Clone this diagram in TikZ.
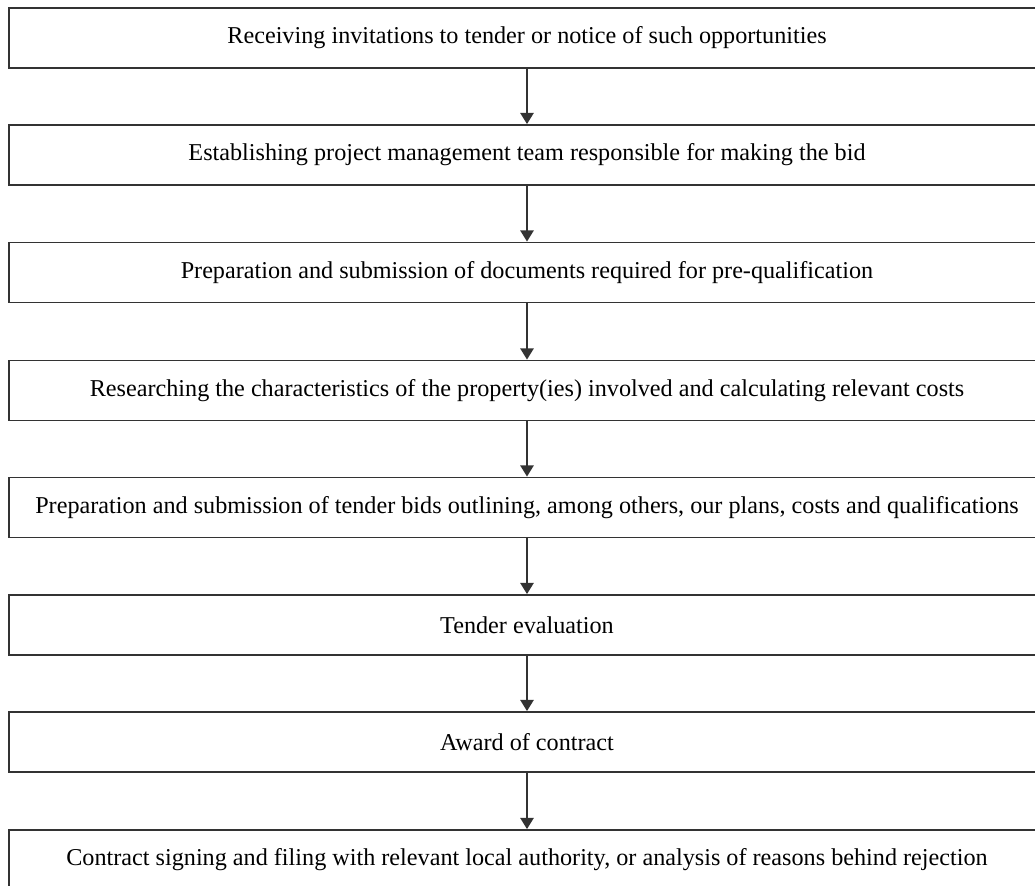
\documentclass[tikz,border=0pt]{standalone}
\usepackage{fontspec}
\setmainfont{Liberation Serif}
\usetikzlibrary{arrows.meta}

\begin{document}
\begin{tikzpicture}[x=0.025cm,y=-0.025cm,
                stage/.style={draw=black!80,line width=1.3pt,minimum width=25.9cm,minimum height=1.5cm,inner sep=0pt,font=\fontsize{17.2}{21}\selectfont},
                flow/.style={draw=black!80,line width=1.3pt,-{Triangle[width=9.5pt,length=8pt]}}]
                \clip (0,0) rectangle (1035,886);
                \node [stage] (s1) at (527,38) {Receiving invitations to tender or notice of such opportunities};
                \node [stage] (s2) at (527,155) {Establishing project management team responsible for making the bid};
                \node [stage] (s3) at (527,272.5) {Preparation and submission of documents required for pre-qualification};
                \node [stage] (s4) at (527,390.5) {Researching the characteristics of the property(ies) involved and calculating relevant costs};
                \node [stage] (s5) at (527,507.5) {Preparation and submission of tender bids outlining, among others, our plans, costs and qualifications};
                \node [stage] (s6) at (527,625) {Tender evaluation};
                \node [stage] (s7) at (527,742) {Award of contract};
                \node [stage] (s8) at (527,860) {Contract signing and filing with relevant local authority, or analysis of reasons behind rejection};
                \draw [flow] (s1) -- (s2);
                \draw [flow] (s2) -- (s3);
                \draw [flow] (s3) -- (s4);
                \draw [flow] (s4) -- (s5);
                \draw [flow] (s5) -- (s6);
                \draw [flow] (s6) -- (s7);
                \draw [flow] (s7) -- (s8);
            \end{tikzpicture}
\end{document}
